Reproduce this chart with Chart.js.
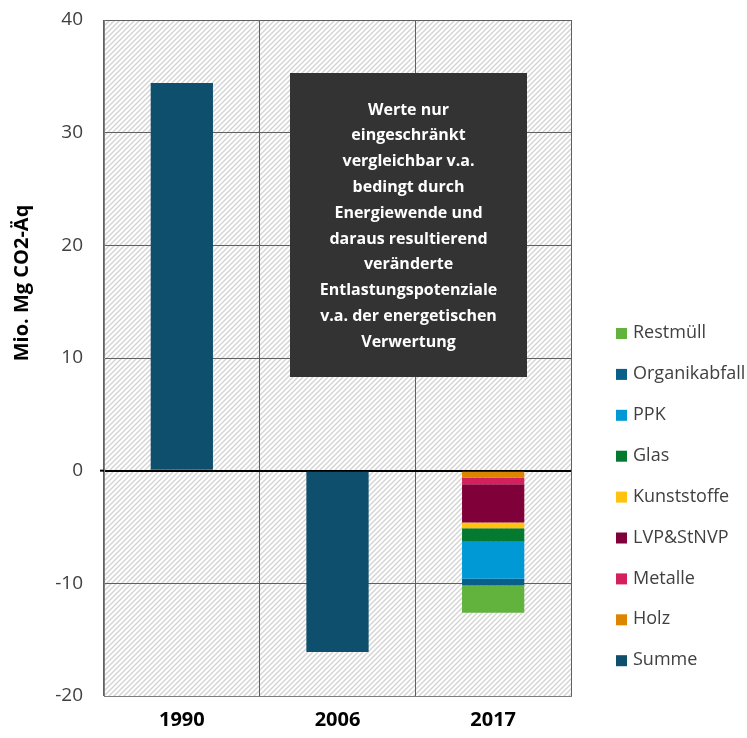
<!DOCTYPE html>
<html lang="de">
<head>
    <meta charset="UTF-8">
    <title>Entlastung Mio. Mg CO2-Äq</title>
    <script src="https://cdn.jsdelivr.net/npm/chart.js"></script>
    <style>
        body {
            margin: 0;
            padding: 0;
            background-color: #fff;
        }
        #wrap {
            width: 747px;
            height: 738px;
        }
    </style>
</head>
<body>
    <div id="wrap">
        <canvas id="co2Chart" width="747" height="738"></canvas>
    </div>

    <script>
        // Jahre und Werte (Mio. Mg CO2-Äq)
        const years = ['1990', '2006', '2017'];
        const summe = [34.4, -16.1, null];
        const holz = [null, null, -0.6];
        const metalle = [null, null, -0.6];
        const lvp = [null, null, -3.4];
        const kunststoffe = [null, null, -0.5];
        const glas = [null, null, -1.2];
        const ppk = [null, null, -3.3];
        const organik = [null, null, -0.6];
        const restmuell = [null, null, -2.4];

        const yTicks = [-20, -10, 0, 10, 20, 30, 40];

        const noteLines = [
            'Werte nur',
            'eingeschränkt',
            'vergleichbar v.a.',
            'bedingt durch',
            'Energiewende und',
            'daraus resultierend',
            'veränderte',
            'Entlastungspotenziale',
            'v.a. der energetischen',
            'Verwertung'
        ];

        const FONT = "'Open Sans', sans-serif";

        // Schraffur für den Hintergrund der Zeichenfläche
        function makeHatch() {
            const p = 5;
            const c = document.createElement('canvas');
            c.width = p;
            c.height = p;
            const g = c.getContext('2d');
            g.fillStyle = '#ffffff';
            g.fillRect(0, 0, p, p);
            g.strokeStyle = '#d3d3d3';
            g.lineWidth = 1.4;
            g.beginPath();
            g.moveTo(-1, p + 1); g.lineTo(p + 1, -1);
            g.moveTo(-1, 1); g.lineTo(1, -1);
            g.moveTo(p - 1, p + 1); g.lineTo(p + 1, p - 1);
            g.stroke();
            return g.createPattern(c, 'repeat');
        }

        const hatchPlugin = {
            id: 'hatch',
            beforeDraw(chart) {
                const { ctx, chartArea: a } = chart;
                ctx.save();
                ctx.fillStyle = makeHatch();
                ctx.fillRect(a.left, a.top, a.right - a.left, a.bottom - a.top);
                ctx.restore();
            }
        };

        // Hinweisbox, Achsentitel und Legende
        const extrasPlugin = {
            id: 'extras',
            afterDraw(chart) {
                const { ctx, chartArea: a } = chart;
                ctx.save();

                // kleiner Strich links an der Nulllinie
                const y0 = chart.scales.y.getPixelForValue(0);
                ctx.strokeStyle = '#000000';
                ctx.lineWidth = 2;
                ctx.beginPath();
                ctx.moveTo(a.left - 4, y0);
                ctx.lineTo(a.left, y0);
                ctx.stroke();

                // Hinweisbox
                const bx = a.left + 186, by = a.top + 53, bw = 237, bh = 304;
                ctx.fillStyle = '#333333';
                ctx.fillRect(bx, by, bw, bh);
                ctx.fillStyle = '#ffffff';
                ctx.font = 'bold 16px ' + FONT;
                ctx.textAlign = 'center';
                ctx.textBaseline = 'middle';
                noteLines.forEach((line, i) => {
                    ctx.fillText(line, bx + bw / 2, by + 37 + i * 25.8);
                });

                // Achsentitel
                ctx.translate(22, 283);
                ctx.rotate(-Math.PI / 2);
                ctx.fillStyle = '#000000';
                ctx.font = 'bold 20px ' + FONT;
                ctx.fillText('Mio. Mg CO2-Äq', 0, 0);
                ctx.setTransform(1, 0, 0, 1, 0, 0);

                // Legende (umgekehrte Reihenfolge)
                const sets = chart.data.datasets.slice().reverse();
                ctx.textAlign = 'left';
                ctx.font = '18px ' + FONT;
                sets.forEach((ds, i) => {
                    const y = 333 + i * 40.9;
                    ctx.fillStyle = ds.backgroundColor;
                    ctx.fillRect(616, y - 5, 11, 11);
                    ctx.fillStyle = '#404040';
                    ctx.fillText(ds.label, 633, y);
                });

                ctx.restore();
            }
        };

        const ctx = document.getElementById('co2Chart').getContext('2d');

        new Chart(ctx, {
            type: 'bar',
            data: {
                labels: years,
                datasets: [
                    { label: 'Summe', data: summe, backgroundColor: '#0d4f6c' },
                    { label: 'Holz', data: holz, backgroundColor: '#de8500' },
                    { label: 'Metalle', data: metalle, backgroundColor: '#d4215d' },
                    { label: 'LVP&StNVP', data: lvp, backgroundColor: '#80003a' },
                    { label: 'Kunststoffe', data: kunststoffe, backgroundColor: '#ffc20e' },
                    { label: 'Glas', data: glas, backgroundColor: '#047a30' },
                    { label: 'PPK', data: ppk, backgroundColor: '#0099d6' },
                    { label: 'Organikabfall', data: organik, backgroundColor: '#085f8a' },
                    { label: 'Restmüll', data: restmuell, backgroundColor: '#62b33e' }
                ]
            },
            options: {
                responsive: false,
                animation: false,
                devicePixelRatio: 1,
                layout: {
                    padding: { left: 0, top: 20, right: 176, bottom: 0 }
                },
                datasets: {
                    bar: {
                        barPercentage: 0.4,
                        categoryPercentage: 1,
                        borderWidth: 0
                    }
                },
                plugins: {
                    legend: { display: false },
                    tooltip: { enabled: false }
                },
                scales: {
                    x: {
                        stacked: true,
                        grid: {
                            offset: true,
                            color: '#606060',
                            lineWidth: 1,
                            drawTicks: false
                        },
                        border: { color: '#7f7f7f', width: 1 },
                        ticks: {
                            padding: 12,
                            color: '#000000',
                            font: { family: FONT, size: 20, weight: 'bold' }
                        },
                        afterFit(scale) {
                            scale.height = 42;
                        }
                    },
                    y: {
                        stacked: true,
                        min: -20,
                        max: 40,
                        afterBuildTicks(scale) {
                            scale.ticks = yTicks.map(v => ({ value: v }));
                        },
                        grid: {
                            color: c => c.tick && c.tick.value === 0 ? '#000000' : '#606060',
                            lineWidth: c => c.tick && c.tick.value === 0 ? 2 : 1,
                            drawTicks: false
                        },
                        border: { color: '#7f7f7f', width: 1 },
                        ticks: {
                            padding: 21,
                            color: '#404040',
                            font: { family: FONT, size: 19 }
                        },
                        afterFit(scale) {
                            scale.width = 104;
                            scale.paddingTop = 0;
                            scale.paddingBottom = 0;
                        }
                    }
                }
            },
            plugins: [hatchPlugin, extrasPlugin]
        });
    </script>
</body>
</html>
